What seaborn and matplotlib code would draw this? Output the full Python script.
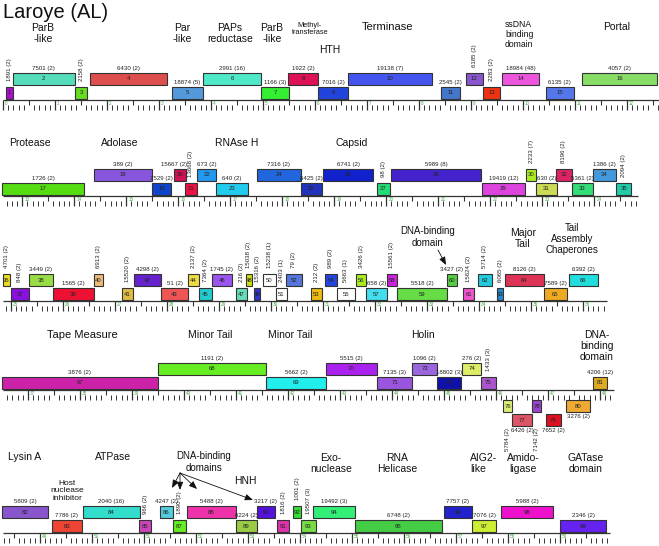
import numpy as np
import pandas as pd
import seaborn as sns
import matplotlib
matplotlib.use("Agg")
import matplotlib.pyplot as plt

sns.set_theme(style="white")
plt.rcParams['font.family'] = ['Liberation Sans', 'DejaVu Sans']

# ---------------- data (genome positions in kb) -------------
gene_ids = list(range(1, 100))
gene_start = [0.06, 0.19, 1.38, 1.67, 3.25, 3.85, 4.96, 5.48, 6.06, 6.63, 8.42, 8.90, 9.23, 9.60, 10.44, 11.13,
              12.61, 14.38, 15.50, 15.92, 16.13, 16.36, 16.73, 17.51, 18.36, 18.78, 19.82, 20.09, 21.84, 22.69, 22.88,
              23.26, 23.57, 23.98, 24.42,
              24.85, 25.00, 25.35, 25.81, 26.60, 27.14, 27.37, 27.89, 28.41, 28.62, 28.87, 29.33, 29.52, 29.68, 29.85,
              30.10, 30.29, 30.77, 31.04, 31.27, 31.64, 31.83, 32.23, 32.43, 33.39, 33.70, 33.98, 34.35, 34.50, 35.25,
              35.73,
              36.50, 39.50, 41.58, 42.73, 43.71, 44.39, 44.87, 45.35, 45.71, 46.14, 46.31, 46.69, 46.96, 47.35, 47.87,
              48.27, 49.23, 49.83, 50.91, 51.31, 51.56, 51.83, 52.77, 53.17, 53.56, 53.87, 54.02, 54.25, 55.06, 56.77,
              57.31, 57.87, 59.00]
gene_end = [0.19, 1.38, 1.62, 3.15, 3.85, 4.96, 5.50, 6.06, 6.63, 8.25, 8.79, 9.23, 9.56, 10.31, 10.98, 12.58,
            14.19, 15.50, 15.86, 16.15, 16.36, 16.73, 17.34, 18.36, 18.76, 19.75, 20.07, 21.82, 22.67, 22.88, 23.28,
            23.57, 23.98, 24.42, 24.71,
            24.98, 25.35, 25.81, 26.60, 26.77, 27.35, 27.89, 28.41, 28.62, 28.87, 29.25, 29.54, 29.64, 29.79, 30.10,
            30.31, 30.60, 30.98, 31.27, 31.62, 31.83, 32.23, 32.43, 33.39, 33.58, 33.91, 34.25, 34.47, 35.25, 35.70,
            36.29,
            39.50, 41.58, 42.73, 43.71, 44.39, 44.87, 45.33, 45.71, 46.00, 46.31, 46.69, 46.87, 47.25, 47.81, 48.13,
            49.16, 49.81, 50.92, 51.14, 51.56, 51.81, 52.77, 53.17, 53.52, 53.79, 54.02, 54.31, 55.06, 56.73, 57.31,
            57.77, 58.87, 59.89]
gene_lane = (['L', 'U'] * 8)[:16] + ['L', 'U'] * 9 + ['L'] + \
            ['U', 'L'] * 15 + ['U'] + \
            ['L', 'U', 'L', 'U', 'L', 'U', 'L', 'U', 'L', 'RU', 'RL', 'RU', 'RL', 'RU', 'L'] + \
            ['U', 'L'] * 9
gene_color = ['#aa11cc', '#55ddbb', '#66dd22', '#dd4f4f', '#5599dd', '#4fe8c8', '#33ee33', '#dd1155', '#2244dd',
              '#4455ee', '#4477cc', '#8855cc', '#ee3311', '#ee55dd', '#5577ee', '#88dd66',
              '#55dd11', '#8855dd', '#1144cc', '#cc1155', '#ee1144', '#2299ee', '#22ccee', '#2266dd', '#2233bb',
              '#1122cc', '#22dd77', '#4422cc', '#dd44dd', '#aaee22', '#ccdd55', '#dd2266', '#33dd77', '#4499dd',
              '#22ccaa',
              '#eedd22', '#8811dd', '#99dd44', '#ee1133', '#eebb77', '#ddbb44', '#6622cc', '#ee5555', '#eedd44',
              '#22cccc', '#9955ee', '#66ddbb', '#ccdd11', '#3333cc', '#ffffff', '#ffffff', '#5577dd', '#eebb11',
              '#2244dd', '#ffffff', '#aaee22', '#44ddee', '#cc22dd', '#66dd44', '#55cc44', '#ee55cc', '#22ccdd',
              '#2288cc', '#dd3355', '#eeaa22', '#22dddd',
              '#cc22aa', '#66ee22', '#22eeee', '#aa22ee', '#9955dd', '#9966dd', '#1111aa', '#ddee66', '#aa55cc',
              '#ddee77', '#dd5566', '#9944cc', '#dd1122', '#eeaa33', '#ddaa22',
              '#8855cc', '#ee4433', '#33ddcc', '#cc44bb', '#55ccdd', '#66ee22', '#ee33aa', '#99cc44', '#5511dd',
              '#dd33aa', '#33dd33', '#77dd44', '#33ee77', '#44cc44', '#2222cc', '#ccee33', '#ee11cc', '#6622ee']
gene_note = ['1891 (2)', '7501 (2)', '2158 (2)', '6430 (2)', '18874 (5)', '2991 (16)', '1166 (3)', '1922 (2)',
             '7016 (2)', '19138 (7)', '2545 (2)', '6185 (2)', '2283 (2)', '18984 (48)', '6135 (2)', '4057 (2)',
             '1726 (2)', '389 (2)', '7529 (2)', '15667 (2)', '13668 (2)', '673 (2)', '640 (2)', '7316 (2)',
             '6425 (2)', '6741 (2)', '98 (2)', '5989 (8)', '19419 (12)', '2233 (7)', '630 (2)', '8196 (2)',
             '5361 (2)', '1386 (2)', '2094 (2)',
             '4701 (2)', '848 (2)', '3449 (2)', '1565 (2)', '6913 (2)', '15520 (2)', '4298 (2)', '51 (2)',
             '2137 (2)', '7364 (2)', '1745 (2)', '216 (2)', '15038 (2)', '15316 (2)', '15238 (1)', '2403 (1)',
             '79 (2)', '212 (2)', '989 (2)', '5663 (1)', '3426 (2)', '658 (2)', '15561 (2)', '5518 (2)',
             '3427 (2)', '15624 (2)', '5714 (2)', '6065 (2)', '8126 (2)', '7589 (2)', '6392 (2)',
             '3876 (2)', '1191 (2)', '5662 (2)', '5515 (2)', '7135 (3)', '1096 (2)', '18802 (3)', '276 (2)',
             '1433 (3)', '5784 (2)', '6426 (2)', '7142 (2)', '7652 (2)', '3276 (2)', '4206 (12)',
             '5809 (2)', '7786 (2)', '2040 (16)', '966 (2)', '4247 (2)', '1890 (2)', '5488 (2)', '6224 (2)',
             '3217 (2)', '1816 (2)', '1001 (2)', '19507 (3)', '19492 (3)', '6748 (2)', '7757 (2)', '7076 (2)',
             '5988 (2)', '2346 (2)']
vertical_note_ids = [1, 3, 12, 13, 21, 27, 30, 32, 35, 36, 37, 40, 41, 44, 45, 47, 48, 49, 50, 51, 52, 53, 54,
                     55, 56, 58, 61, 62, 63, 75, 76, 78, 85, 87, 91, 92, 93]

row_start = [0.0, 12.63, 24.85, 36.52, 48.29]
row_end = [12.62, 24.84, 36.46, 48.27, 59.96]

# function labels
func_text = ['ParB\n-like', 'Par\n-like', 'PAPs\nreductase', 'ParB\n-like', 'Methyl-\ntransferase', 'HTH',
             'Terminase', 'ssDNA\nbinding\ndomain', 'Portal',
             'Protease', 'Adolase', 'RNAse H', 'Capsid',
             'DNA-binding\ndomain', 'Major\nTail', 'Tail\nAssembly\nChaperones',
             'Tape Measure', 'Minor Tail', 'Minor Tail', 'Holin', 'DNA-\nbinding\ndomain',
             'Lysin A', 'Host\nnuclease\ninhibitor', 'ATPase', 'DNA-binding\ndomains', 'HNH', 'Exo-\nnuclease',
             'RNA\nHelicase', 'AIG2-\nlike', 'Amido-\nligase', 'GATase\ndomain']

# ---------------- layout -------------
W, H = 659, 546
PX_PER_KB = 52.0
X0 = 3
ruler_y = [100, 196, 301, 390, 533]
BOX_H = 12
lane_top = {'U': -27, 'L': -13, 'RU': 10, 'RL': 24}
note_dx_px = {20: -6}

func_x = [43, 182, 230, 272, 310, 330, 387, 505, 617,
          30, 120, 237, 352,
          428, 523, 572,
          82, 210, 290, 423, 597,
          25, 67, 113, 204, 245, 331, 397, 470, 523, 586]
func_y = [33.5, 33.5, 33.5, 33.5, 29, 50, 27, 34.5, 27,
          143, 143, 143, 143,
          237, 238.5, 239,
          335, 335, 335, 335, 346,
          457, 491, 457, 462, 481, 463.5, 463.5, 463.5, 463.5, 463.5]
func_size = [7.5, 7.5, 7.5, 7.5, 5.3, 7.5, 8, 6.2, 7.5,
             7.5, 7.5, 7.5, 7.5,
             7, 7.5, 7,
             8, 7.5, 7.5, 7.5, 7.5,
             7.5, 6, 7.5, 7, 7.5, 7.5, 7.5, 7.5, 7.5, 7.5]
func_ha = ['center'] * 7 + ['left'] + ['center'] * 20 + ['left', 'center', 'center']

fig = plt.figure(figsize=(W / 100, H / 100), dpi=100)

genes = pd.DataFrame({'id': gene_ids, 'start': gene_start, 'end': gene_end, 'lane': gene_lane,
                      'color': gene_color, 'note': gene_note})
mid = (genes['start'] + genes['end']) / 2
genes['row'] = np.searchsorted(np.array(row_end), mid.values)

FS_NOTE = 4.4
for r in range(5):
    ax = fig.add_axes([0, 0, 1, 1])
    ax.set_xlim(row_start[r] - X0 / PX_PER_KB, row_start[r] + (W - X0) / PX_PER_KB)
    ax.set_ylim(H, 0)
    ax.axis('off')
    ax.patch.set_alpha(0)
    y0 = ruler_y[r]
    # ruler
    ax.hlines(y0, row_start[r], row_end[r], color='#333333', lw=0.9)
    ks = np.arange(int(np.ceil(row_start[r] * 10 - 1e-6)), int(np.floor(row_end[r] * 10 + 1e-6)) + 1)
    for k in ks:
        xk = k / 10
        if k % 10 == 0:
            ax.vlines(xk, y0, y0 + 10, color='#333333', lw=0.9)
            ax.text(xk + 0.04, y0 + 1, str(k // 10), color='#44aa44', fontsize=3.3, va='top', ha='left')
        elif k % 5 == 0:
            ax.vlines(xk, y0, y0 + 4.5, color='#333333', lw=0.8)
        else:
            ax.vlines(xk, y0 + 5, y0 + 10, color='#333333', lw=0.7)
    sub = genes[genes['row'] == r]
    for _, g in sub.iterrows():
        top = y0 + lane_top[g['lane']]
        ax.barh(top + BOX_H / 2, g['end'] - g['start'], left=g['start'], height=BOX_H,
                color=g['color'], edgecolor='#333333', linewidth=0.8, zorder=3)
        xc = (g['start'] + g['end']) / 2
        ax.text(xc, top + BOX_H / 2, str(g['id']), fontsize=4.3, ha='center', va='center',
                color='#222222', zorder=4)
        xn = xc + note_dx_px.get(g['id'], 0) / PX_PER_KB
        vert = g['id'] in vertical_note_ids
        rev = g['lane'].startswith('R')
        if not rev:
            if vert:
                ax.text(xn, top - 6, g['note'], rotation=90, fontsize=FS_NOTE, ha='center', va='bottom',
                        color='#222222')
            else:
                ax.text(xn, top - 2, g['note'], fontsize=FS_NOTE, ha='center', va='bottom', color='#222222')
        else:
            if vert:
                ax.text(xn, y0 + 38, g['note'], rotation=90, fontsize=FS_NOTE, ha='center', va='top',
                        color='#222222')
            else:
                ax.text(xn, top + BOX_H + 2, g['note'], fontsize=FS_NOTE, ha='center', va='top',
                        color='#222222')

# overlay in pixel units for labels
pax = fig.add_axes([0, 0, 1, 1])
pax.set_xlim(0, W)
pax.set_ylim(H, 0)
pax.axis('off')
pax.patch.set_alpha(0)
pax.text(3, 13, 'Laroye (AL)', fontsize=14.5, ha='left', va='center', color='#111111')
for t, x, y, s, ha in zip(func_text, func_x, func_y, func_size, func_ha):
    pax.text(x, y, t, fontsize=s, ha=ha, va='center', color='#111111', linespacing=1.15)

arrow_from = [(438, 250), (180, 473), (180, 473), (180, 473), (180, 473)]
arrow_to = [(446, 265), (172, 488), (180, 490), (197, 489), (253, 500)]
for a, b in zip(arrow_from, arrow_to):
    pax.annotate('', xy=b, xytext=a,
                 arrowprops=dict(arrowstyle='-|>,head_length=0.4,head_width=0.16', color='#111111',
                                 lw=0.6, shrinkA=0, shrinkB=0))

fig.savefig('out.png', dpi=100)
